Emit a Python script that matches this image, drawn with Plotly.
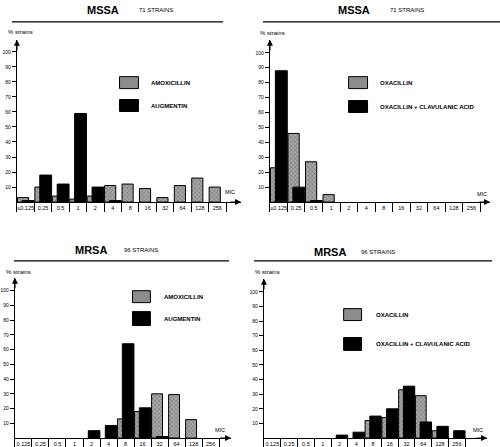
import plotly.graph_objects as go

W, H = 500, 447

# ---------------- data ----------------
MIC_TOP = ["≤0.125", "0.25", "0.5", "1", "2", "4", "8", "16", "32", "64", "128", "256"]
MIC_BOT = ["0.125", "0.25", "0.5", "1", "2", "4", "8", "16", "32", "64", "128", "256"]

mssa_amoxicillin = [3, 10, 4, 2, 4, 11, 12, 9, 3, 11, 16, 10]
mssa_augmentin = [1, 18, 12, 59, 10, 1, None, None, None, None, None, None]

mssa_oxacillin = [23, 46, 27, 5, None, None, None, None, None, None, None, None]
mssa_oxa_clav = [88, 10, 1, None, None, None, None, None, None, None, None, None]

mrsa_amoxicillin = [None, None, None, None, None, None, 13, 18, 30, 29.5, 12.5, None]
mrsa_augmentin = [None, None, None, None, 5, 8.5, 64, 20.5, 1, None, None, None]

mrsa_oxacillin = [None, None, None, None, None, None, 12, 14, 33, 29, 5, None]
mrsa_oxa_clav = [None, None, None, None, 2, 4, 15, 20, 35.5, 11, 8, 5]

Y_TICKS = [10, 20, 30, 40, 50, 60, 70, 80, 90, 100]

panels = [
    dict(title="MSSA", strains="71 STRAINS", cats=MIC_TOP,
         gray=mssa_amoxicillin, black=mssa_augmentin,
         lg="AMOXICILLIN", lb="AUGMENTIN"),
    dict(title="MSSA", strains="71 STRAINS", cats=MIC_TOP,
         gray=mssa_oxacillin, black=mssa_oxa_clav,
         lg="OXACILLIN", lb="OXACILLIN + CLAVULANIC ACID"),
    dict(title="MRSA", strains="96 STRAINS", cats=MIC_BOT,
         gray=mrsa_amoxicillin, black=mrsa_augmentin,
         lg="AMOXICILLIN", lb="AUGMENTIN"),
    dict(title="MRSA", strains="96 STRAINS", cats=MIC_BOT,
         gray=mrsa_oxacillin, black=mrsa_oxa_clav,
         lg="OXACILLIN", lb="OXACILLIN + CLAVULANIC ACID"),
]

# ---------------- layout geometry (pixels) ----------------
geo = [
    dict(x0=15, x1=240, ytop=40, ybot=203, xr=12.36, yr=108,
         title_x=101, str_x=155, title_y=10, line=(10, 222, 22),
         pct=(4, 32), mic=(229, 193),
         gbox=(118, 137, 77, 89), bbox=(118, 137, 100, 112), tx=148),
    dict(x0=269, x1=490, ytop=40, ybot=203, xr=12.06, yr=108.7,
         title_x=353, str_x=407, title_y=10, line=(262, 500, 22),
         pct=(257, 33), mic=(482, 195),
         gbox=(348, 367, 77, 89), bbox=(348, 367, 101, 113), tx=378),
    dict(x0=13, x1=230, ytop=279, ybot=440, xr=12.2, yr=108.8,
         title_x=89, str_x=140, title_y=251, line=(12, 228, 262),
         pct=(2, 273), mic=(219, 432),
         gbox=(131, 149, 292, 304), bbox=(131, 149, 313, 327), tx=161),
    dict(x0=263, x1=487, ytop=280, ybot=440, xr=12.8, yr=109,
         title_x=329, str_x=378, title_y=253, line=(253, 492, 262),
         pct=(252, 273), mic=(478, 432),
         gbox=(343, 361, 310, 322), bbox=(343, 361, 339, 352), tx=373),
]

FONT = "Liberation Sans"
GRAY = "#8e8e8e"

fig = go.Figure()
annotations = []
shapes = []
layout = dict(width=W, height=H, margin=dict(l=0, r=0, t=0, b=0),
              paper_bgcolor="white", plot_bgcolor="white",
              showlegend=False, barmode="overlay",
              font=dict(family=FONT, color="black", size=6))


def px(x):
    return x / W


def py(y):
    return 1 - y / H


for i, (p, g) in enumerate(zip(panels, geo), start=1):
    xa = "x" if i == 1 else f"x{i}"
    ya = "y" if i == 1 else f"y{i}"
    idx = list(range(len(p["cats"])))
    fig.add_trace(go.Bar(
        x=idx, y=p["gray"], xaxis=xa, yaxis=ya,
        offset=-0.47, width=0.64, customdata=p["cats"],
        marker=dict(color=GRAY, line=dict(color="black", width=1),
                    pattern=dict(shape="x", size=3, solidity=0.35,
                                 fgcolor="#3a3a3a", bgcolor="#a8a8a8")),
        name=p["lg"]))
    fig.add_trace(go.Bar(
        x=idx, y=p["black"], xaxis=xa, yaxis=ya,
        offset=-0.19, width=0.68, customdata=p["cats"],
        marker=dict(color="black", line=dict(color="black", width=1)),
        name=p["lb"]))

    xkey = "xaxis" if i == 1 else f"xaxis{i}"
    ykey = "yaxis" if i == 1 else f"yaxis{i}"
    layout[xkey] = dict(
        domain=[px(g["x0"]), px(g["x1"])], anchor=ya,
        range=[-0.5, g["xr"]], showline=True, linecolor="black", linewidth=1.3,
        showgrid=False, zeroline=False,
        tickmode="array", tickvals=idx, ticktext=p["cats"], ticks="",
        tickangle=0, ticklabelstandoff=0,
        minor=dict(tickmode="array", tickvals=[k - 0.5 for k in idx] + [idx[-1] + 0.5],
                   ticks="outside", ticklen=9, tickwidth=1.2, tickcolor="black",
                   showgrid=False),
        tickfont=dict(size=5.5, family=FONT), fixedrange=True)
    layout[ykey] = dict(
        domain=[py(g["ybot"]), py(g["ytop"])], anchor=xa,
        range=[0, g["yr"]], tickmode="array", tickvals=Y_TICKS,
        showline=True, linecolor="black", linewidth=1.3,
        showgrid=False, zeroline=False, ticks="outside", ticklen=4,
        tickwidth=1, tickcolor="black", tickfont=dict(size=5, family=FONT),
        fixedrange=True)

    # axis arrowheads
    annotations.append(dict(x=0, y=1, xref=f"{xa} domain", yref=f"{ya} domain",
                            ax=0, ay=12, showarrow=True, arrowhead=2, arrowsize=1,
                            arrowwidth=1.2, arrowcolor="black", text=""))
    annotations.append(dict(x=1, y=0, xref=f"{xa} domain", yref=f"{ya} domain",
                            ax=-12, ay=0, showarrow=True, arrowhead=2, arrowsize=1,
                            arrowwidth=1.2, arrowcolor="black", text=""))

    # titles
    annotations.append(dict(x=px(g["title_x"]), y=py(g["title_y"]), xref="paper", yref="paper",
                            text="<b>" + p["title"] + "</b>", showarrow=False,
                            font=dict(size=11, family=FONT), xanchor="center", yanchor="middle"))
    annotations.append(dict(x=px(g["str_x"]), y=py(g["title_y"] + 0.5), xref="paper", yref="paper",
                            text=p["strains"], showarrow=False,
                            font=dict(size=6, family=FONT), xanchor="center", yanchor="middle"))
    lx0, lx1, ly = g["line"]
    shapes.append(dict(type="line", xref="paper", yref="paper",
                       x0=px(lx0), x1=px(lx1), y0=py(ly), y1=py(ly),
                       line=dict(color="black", width=1.2)))
    annotations.append(dict(x=px(g["pct"][0]), y=py(g["pct"][1]), xref="paper", yref="paper",
                            text="% strains", showarrow=False, font=dict(size=6, family=FONT),
                            xanchor="left", yanchor="middle"))
    annotations.append(dict(x=px(g["mic"][0]), y=py(g["mic"][1]), xref="paper", yref="paper",
                            text="MIC", showarrow=False, font=dict(size=5.5, family=FONT),
                            xanchor="center", yanchor="middle"))

    # legend boxes
    gx0, gx1, gy0, gy1 = g["gbox"]
    shapes.append(dict(type="rect", xref="paper", yref="paper",
                       x0=px(gx0), x1=px(gx1), y0=py(gy1), y1=py(gy0),
                       fillcolor="#8c8c8c", line=dict(color="black", width=1)))
    bx0, bx1, by0, by1 = g["bbox"]
    shapes.append(dict(type="rect", xref="paper", yref="paper",
                       x0=px(bx0), x1=px(bx1), y0=py(by1), y1=py(by0),
                       fillcolor="black", line=dict(color="black", width=1)))
    annotations.append(dict(x=px(g["tx"]), y=py((gy0 + gy1) / 2), xref="paper", yref="paper",
                            text="<b>" + p["lg"] + "</b>", showarrow=False,
                            font=dict(size=6, family=FONT), xanchor="left", yanchor="middle"))
    annotations.append(dict(x=px(g["tx"]), y=py((by0 + by1) / 2), xref="paper", yref="paper",
                            text="<b>" + p["lb"] + "</b>", showarrow=False,
                            font=dict(size=6, family=FONT), xanchor="left", yanchor="middle"))

layout["annotations"] = annotations
layout["shapes"] = shapes
fig.update_layout(**layout)
fig.write_html("out.html")
